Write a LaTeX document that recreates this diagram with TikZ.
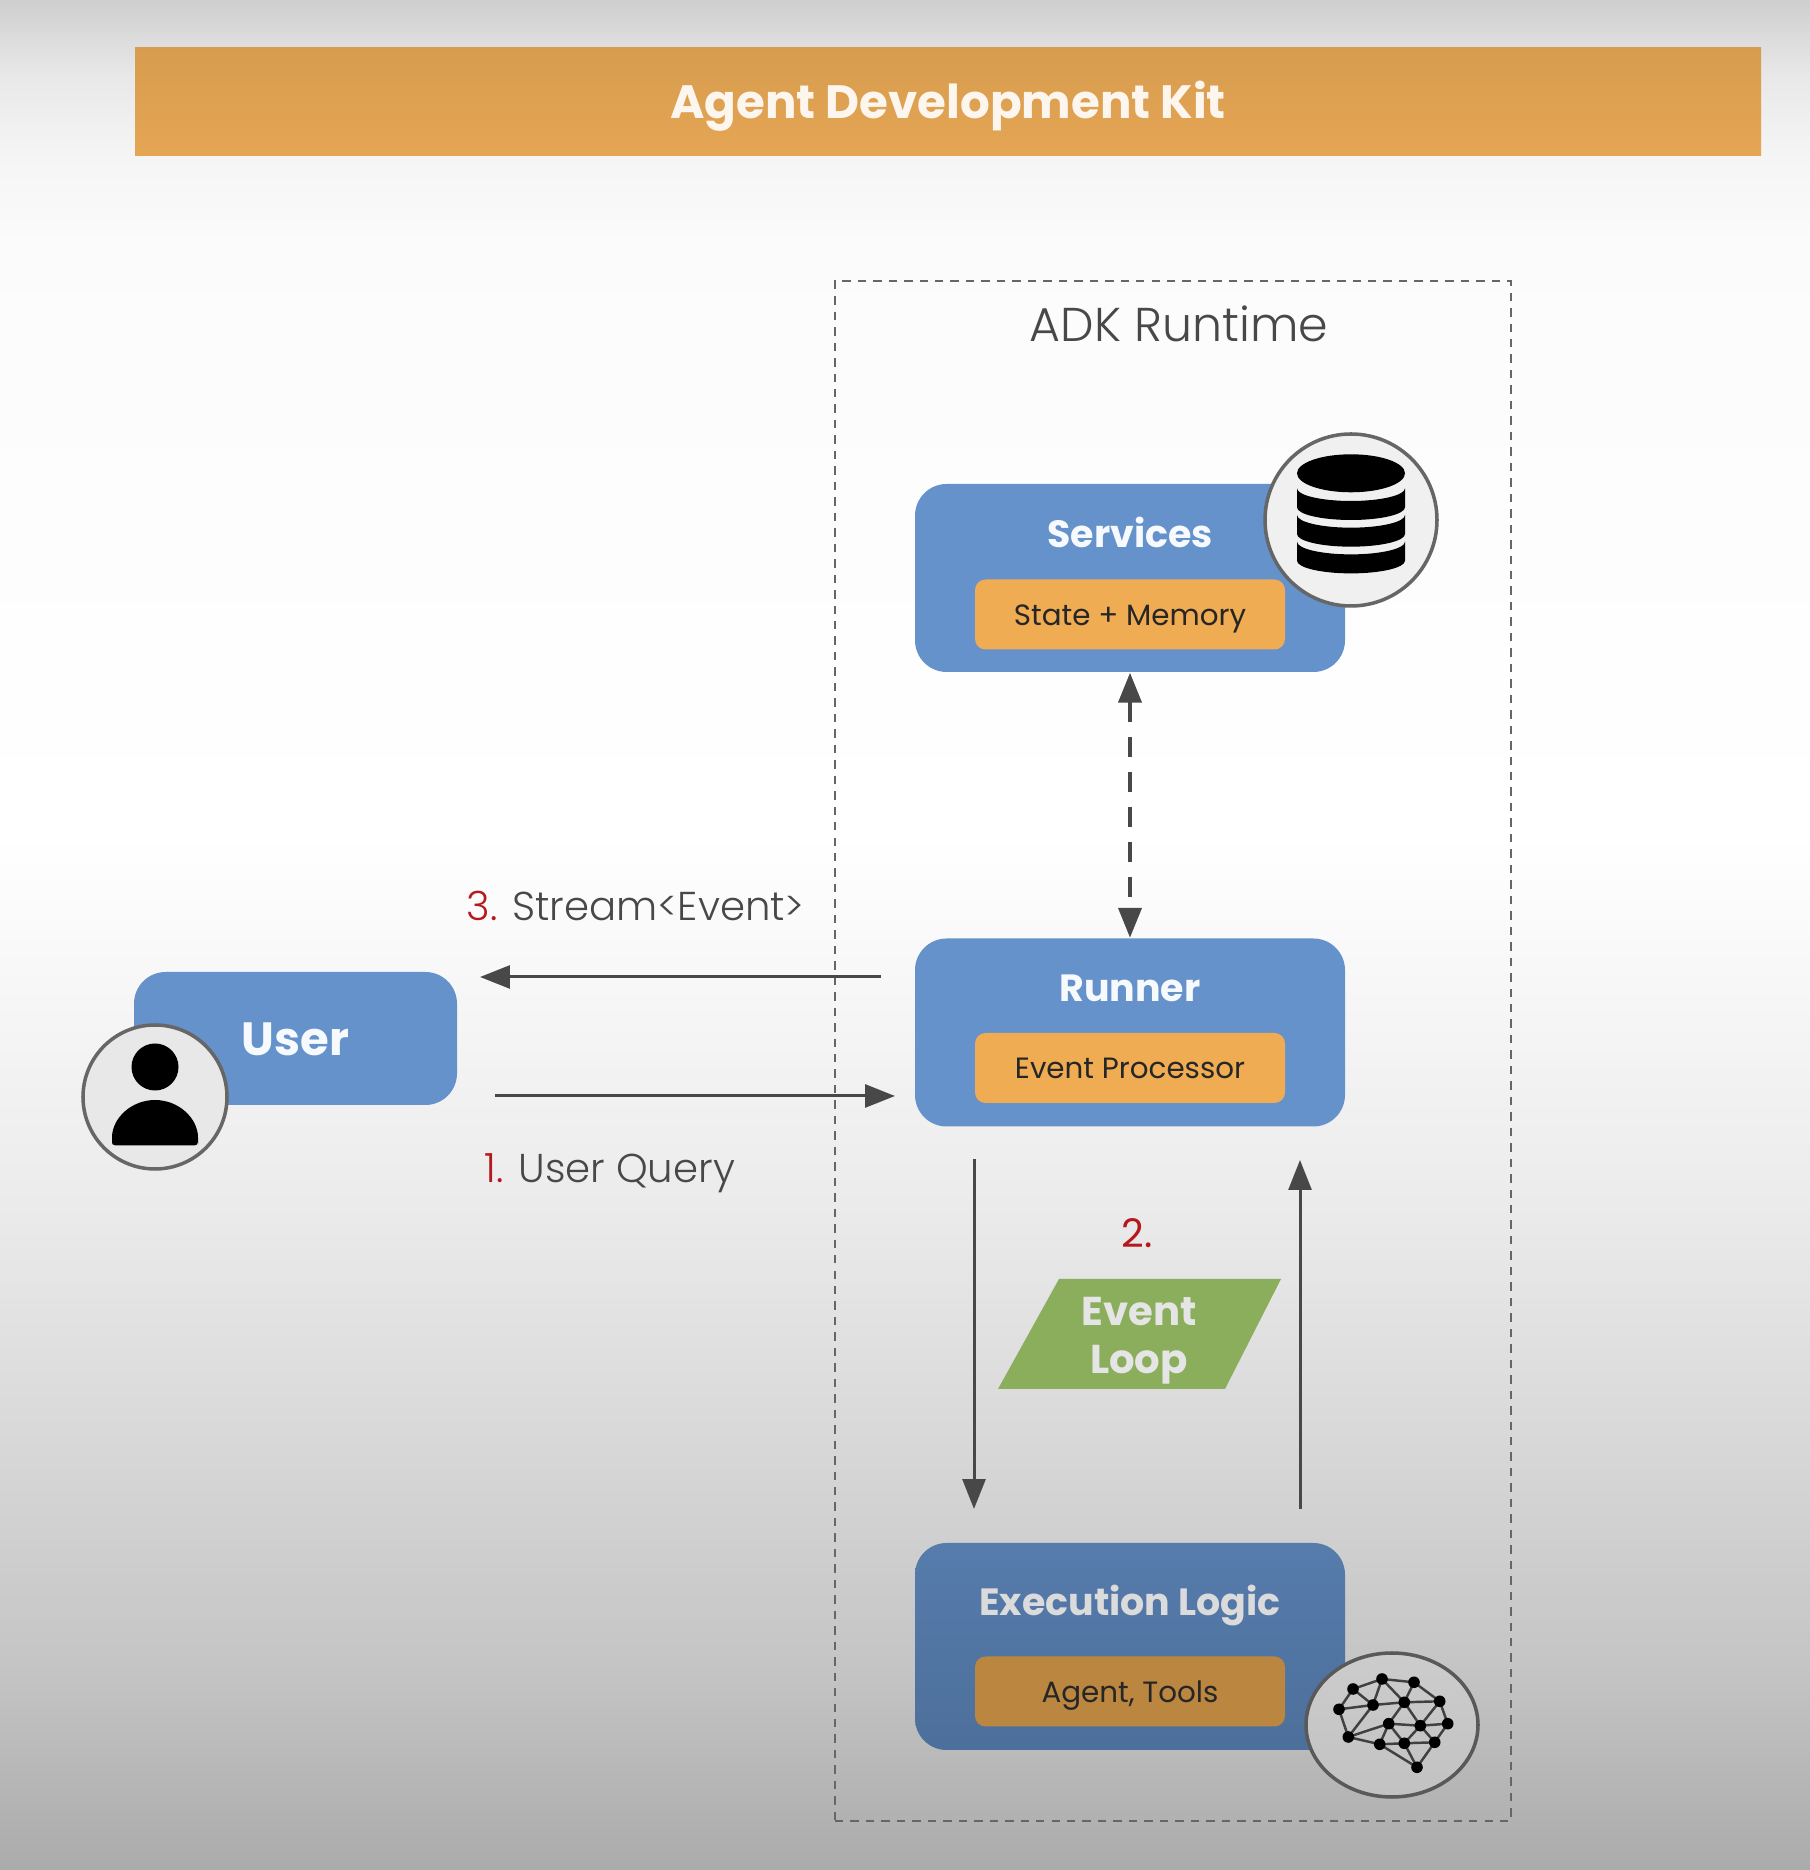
\documentclass[tikz,border=0pt]{standalone}
\usepackage{fontspec}
\setmainfont{Poppins}
\newfontfamily\lightfont{Poppins Light}
\usetikzlibrary{arrows.meta, calc, positioning, shapes.geometric}
\definecolor{barorange}{HTML}{E5A654}
\definecolor{blockblue}{HTML}{6592CB}
\definecolor{subyellow}{HTML}{F0AC52}
\definecolor{loopgreen}{HTML}{8AAE5C}
\definecolor{inkgray}{HTML}{484848}
\definecolor{stepred}{HTML}{B5191E}
\pgfdeclareverticalshading{pagefade}{100bp}{
  color(0bp)=(black!33); color(25bp)=(black!33); color(30.4bp)=(black!23); color(36.75bp)=(black!15);
  color(43.1bp)=(black!7.5); color(49.5bp)=(black!2.5); color(52.7bp)=(black!0);
  color(68.5bp)=(black!1.5); color(70.85bp)=(black!4); color(73bp)=(black!9); color(75bp)=(black!19); color(100bp)=(black!19)}
\tikzset{
  >={Triangle[length=8.5pt, width=6.5pt]},
  blockbox/.style={fill=blockblue, rounded corners=9pt, minimum width=4.30cm, minimum height=1.88cm, inner sep=0pt},
  subbox/.style={fill=subyellow, rounded corners=3pt, minimum width=3.10cm, minimum height=0.70cm, inner sep=0pt, text height=6.2pt, text depth=0pt, font=\fontsize{8.35}{10}\selectfont, text=black!85},
  blockname/.style={text=white!95!blockblue, font=\fontsize{10.8}{12}\selectfont\bfseries, text height=7.7pt, text depth=0pt, inner sep=0pt},
  plainlabel/.style={text=inkgray, font=\lightfont\fontsize{11.45}{13}\selectfont, inner sep=0pt},
  iconring/.style={circle, draw=black!60, line width=1pt, fill=black!6, inner sep=0pt},
  flow/.style={->, inkgray, line width=0.85pt},
}
\begin{document}
\begin{tikzpicture}
  \useasboundingbox (0,0) rectangle (18.10,18.70);
  \shade[shading=pagefade] (0,0) rectangle (18.10,18.70);
  % ---------------- title bar
  \node[top color=barorange!94!black, bottom color=barorange, minimum width=16.26cm, minimum height=1.08cm, inner sep=0pt] (titlebar) at (9.48,17.68) {};
  \node[text=white!90!barorange, font=\fontsize{13.3}{16}\selectfont\bfseries, text height=9.5pt, text depth=0pt, inner sep=0pt] (titletext) at (titlebar.center) {Agent Development Kit};
  % ---------------- runtime frame
  \node[draw=black!60, dash pattern=on 2.4pt off 2pt, line width=0.7pt, minimum width=6.76cm, minimum height=15.40cm, inner sep=0pt] (runtime) at (11.73,8.19) {};
  \node[plainlabel, font=\lightfont\fontsize{13.5}{16}\selectfont] (runtimename) at (11.79,15.46) {ADK Runtime};
  % ---------------- blocks
  \node[blockbox] (services) at (11.30,12.92) {};
  \node[blockname] (servicesname) at ([yshift=0.44cm]services.center) {Services};
  \node[subbox] (memory) at ([yshift=-0.365cm]services.center) {State + Memory};
  \node[blockbox] (runner) at (11.30,8.375) {};
  \node[blockname] (runnername) at ([yshift=0.445cm]runner.center) {Runner};
  \node[subbox] (processor) at ([yshift=-0.355cm]runner.center) {Event Processor};
  \node[blockbox, minimum height=2.07cm, fill=none, top color=blockblue!85!black, bottom color=blockblue!76!black] (execution) at (11.30,2.235) {};
  \node[blockname, text=black!14] (executionname) at ([yshift=0.445cm]execution.center) {Execution Logic};
  \node[subbox, fill=subyellow!78!black] (tools) at ([yshift=-0.45cm]execution.center) {Agent, Tools};
  \node[blockbox, minimum width=3.23cm, minimum height=1.33cm] (user) at (2.955,8.315) {};
  \node[blockname, font=\fontsize{13.25}{15}\selectfont\bfseries, text height=9.4pt] (username) at (user.center) {User};
  % ---------------- database icon
  \node[iconring, minimum size=1.72cm] (dbicon) at (13.51,13.50) {};
  \begin{scope}[shift={(dbicon.center)}]
    \fill[black] (0,0.467) ellipse (0.54 and 0.19);
    \foreach \y in {0.317,0.050,-0.217}
      \fill[black] (-0.54,\y) arc[start angle=180, end angle=360, x radius=0.54, y radius=0.127] -- (0.54,\y-0.19) arc[start angle=0, end angle=-180, x radius=0.54, y radius=0.127] -- cycle;
  \end{scope}
  % ---------------- person icon
  \node[iconring, minimum size=1.44cm, fill=black!9] (usericon) at (1.55,7.73) {};
  \begin{scope}[shift={(usericon.center)}]
    \fill[black] (0,0.30) circle (0.235);
    \fill[black, rounded corners=1pt] (-0.43,-0.485) -- (-0.43,-0.44) arc[start angle=180, end angle=0, x radius=0.43, y radius=0.41] -- (0.43,-0.485) -- cycle;
  \end{scope}
  % ---------------- network icon
  \node[ellipse, draw=black!65, line width=1pt, top color=black!20, bottom color=black!24, minimum width=1.72cm, minimum height=1.44cm, inner sep=0pt] (brainicon) at (13.92,1.45) {};
  \begin{scope}[shift={(brainicon.center)}]
    \foreach \n/\x/\y in {a/-.53/.157, b/-.39/.36, c/-.10/.46, d/.22/.427, e/.477/.237, f/.557/.013, g/.427/-.173, h/.25/-.423, i/.123/-.183, j/-.123/-.193, k/-.437/-.12, l/-.19/.20, m/.123/.227, n/-.033/.013, o/.283/-.007}
      \coordinate (\n) at (\x,\y);
    \foreach \p/\q in {a/b, b/c, c/d, d/e, e/f, f/o, o/n, e/m, m/l, l/a, b/l, c/l, c/m, d/m, m/n, m/o, e/o, l/k, a/k, k/n, k/j, j/i, i/g, g/f, o/g, o/i, n/i, n/j, i/h, g/h, h/j}
      \draw[black!75, line width=0.7pt] (\p) -- (\q);
    \foreach \n in {a,b,c,d,e,f,g,h,i,j,k,l,m,n,o}
      \fill[black] (\n) circle (0.058);
  \end{scope}
  % ---------------- event loop tag
  \fill[loopgreen] (9.98,4.81) -- (10.59,5.91) -- (12.81,5.91) -- (12.25,4.81) -- cycle;
  \node[blockname, align=center, text=black!10, text height=, text depth=, font=\fontsize{11.45}{13.6}\selectfont\bfseries] (looptag) at (11.39,5.29) {Event\\Loop};
  \node[plainlabel, text=stepred, font=\fontsize{11.2}{13}\selectfont] (steptwo) at (11.37,6.37) {2.};
  % ---------------- connectors
  \draw[<->, inkgray, line width=1.2pt, dash pattern=on 5.7pt off 4.3pt] (services.south) -- (runner.north);
  \coordinate (streamstart) at (8.81,8.93);
  \coordinate (streamend) at (4.80,8.93);
  \coordinate (querystart) at (4.95,7.74);
  \coordinate (queryend) at (8.95,7.74);
  \coordinate (loopstart) at (9.74,7.11);
  \coordinate (loopend) at (9.74,3.61);
  \coordinate (backstart) at (13.00,3.61);
  \coordinate (backend) at (13.00,7.10);
  \draw[flow] (streamstart) -- (streamend);
  \draw[flow] (querystart) -- (queryend);
  \draw[flow] (loopstart) -- (loopend);
  \draw[flow] (backstart) -- (backend);
  % ---------------- step labels
  \node[plainlabel, anchor=west] (streamlabel) at (4.66,9.64) {{\color{stepred}3.} Stream<Event>};
  \node[plainlabel, anchor=west] (querylabel) at (4.84,6.97) {{\color{stepred}1.} User Query};
\end{tikzpicture}
\end{document}
